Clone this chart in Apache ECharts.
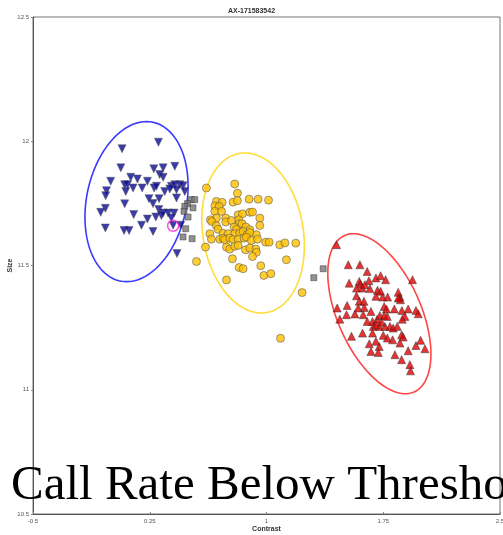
<!DOCTYPE html>
<html><head><meta charset="utf-8">
<script src="https://cdn.jsdelivr.net/npm/echarts@6/dist/echarts.min.js"></script>
<style>html,body{margin:0;padding:0;background:#fff}#c{width:503px;height:535px}</style>
</head><body><div id="c"></div>
<script>
const title = 'AX-171583542';
const xName = 'Contrast';
const yName = 'Size';
const overlayText = 'Call Rate Below Threshold';
const xTicks = [-0.5, 0.25, 1, 1.75, 2.5];
const yTicks = [10.5, 11, 11.5, 12, 12.5];

// cluster: BB (blue, down triangles)
const blueX = [0.072,0.306,0.064,0.276,0.336,0.411,0.128,0.171,0.314,0.336,-0.001,0.089,0.107,0.143,0.201,0.235,0.278,0.293,0.346,0.389,0.411,0.443,0.464,0.422,0.475,-0.028,-0.033,0.096,0.245,0.310,0.379,0.422,0.271,0.089,-0.035,-0.065,0.308,0.336,0.368,0.406,0.147,0.289,0.325,0.235,0.389,0.197,0.400,0.449,-0.035,0.085,0.117,0.271,0.425];
const blueY = [11.970,11.996,11.893,11.889,11.893,11.899,11.855,11.848,11.866,11.855,11.839,11.825,11.825,11.812,11.812,11.839,11.812,11.819,11.798,11.819,11.825,11.825,11.821,11.805,11.798,11.801,11.781,11.798,11.769,11.769,11.808,11.772,11.749,11.748,11.730,11.714,11.725,11.711,11.711,11.711,11.705,11.695,11.701,11.687,11.691,11.662,11.662,11.662,11.651,11.641,11.641,11.637,11.548];

// cluster: AB (yellow circles)
const yellowX = [0.614,0.796,0.813,0.888,0.946,1.013,0.785,0.813,0.678,0.715,0.668,0.696,0.668,0.711,0.678,0.640,0.648,0.738,0.738,0.775,0.818,0.845,0.893,0.910,0.822,0.824,0.792,0.807,0.843,0.867,0.957,0.957,0.893,0.935,0.678,0.689,0.636,0.721,0.753,0.796,0.828,0.850,0.875,0.893,0.646,0.700,0.721,0.732,0.764,0.785,0.818,0.856,0.871,0.903,0.942,0.995,1.017,1.085,1.118,1.188,0.743,0.764,0.796,0.818,0.865,0.893,0.931,0.935,0.910,0.608,0.781,0.550,0.824,0.850,0.963,1.128,0.983,1.028,0.743,1.229,1.090];
const yellowY = [11.812,11.828,11.791,11.767,11.767,11.763,11.755,11.761,11.758,11.754,11.740,11.738,11.718,11.718,11.691,11.684,11.677,11.691,11.675,11.681,11.704,11.708,11.714,11.715,11.684,11.668,11.655,11.646,11.668,11.655,11.691,11.661,11.644,11.624,11.660,11.646,11.628,11.630,11.628,11.628,11.630,11.637,11.624,11.633,11.606,11.606,11.610,11.604,11.610,11.604,11.606,11.610,11.614,11.601,11.606,11.594,11.594,11.583,11.591,11.590,11.574,11.566,11.577,11.581,11.563,11.570,11.566,11.553,11.536,11.574,11.527,11.516,11.492,11.487,11.499,11.523,11.460,11.467,11.442,11.391,11.207];

// cluster: AA (red, up triangles)
const redX = [1.450,1.525,1.600,1.647,1.703,1.733,1.765,1.938,1.531,1.596,1.604,1.658,1.578,1.615,1.664,1.632,1.713,1.733,1.703,1.746,1.778,1.846,1.857,1.861,1.578,1.596,1.626,1.454,1.518,1.589,1.628,1.671,1.756,1.771,1.821,1.870,1.910,1.960,1.975,1.471,1.514,1.568,1.621,1.647,1.681,1.711,1.728,1.756,1.776,1.889,1.872,1.686,1.724,1.761,1.793,1.814,1.840,1.546,1.617,1.681,1.750,1.776,1.810,1.868,1.878,1.660,1.703,1.724,1.671,1.718,1.857,1.910,1.960,1.990,2.018,1.825,1.868,1.921,1.925,1.703,1.739,1.846];
const redY = [11.584,11.503,11.503,11.476,11.450,11.459,11.443,11.443,11.429,11.436,11.425,11.439,11.409,11.409,11.407,11.423,11.400,11.396,11.376,11.373,11.373,11.392,11.373,11.362,11.378,11.356,11.356,11.329,11.339,11.329,11.331,11.315,11.335,11.325,11.325,11.319,11.325,11.319,11.306,11.284,11.302,11.305,11.302,11.275,11.275,11.284,11.299,11.299,11.295,11.295,11.284,11.255,11.255,11.255,11.255,11.248,11.255,11.215,11.228,11.228,11.219,11.208,11.201,11.221,11.212,11.185,11.195,11.174,11.154,11.150,11.188,11.157,11.178,11.199,11.165,11.141,11.121,11.101,11.076,11.262,11.272,11.369];

// no calls (gray squares)
const grayX = [0.518,0.539,0.492,0.475,0.528,0.470,0.496,0.481,0.464,0.522,1.304,1.364];
const grayY = [11.765,11.765,11.749,11.738,11.732,11.718,11.695,11.648,11.615,11.608,11.451,11.487];

// highlighted sample
const highlightX = [0.400];
const highlightY = [11.660];

// cluster ellipses: center x, center y, x-cos term, x-sin term, y-cos term
const ellipseBlue = [0.165, 11.757, 0.064, 0.325, 0.322];
const ellipseYellow = [0.914, 11.631, -0.053, 0.325, 0.322];
const ellipseRed = [1.725, 11.306, -0.167, 0.286, 0.322];

const zip = (xs, ys) => xs.map((x, i) => [x, ys[i]]);

function ellipseSeries(params, color) {
  return {
    type: 'custom', silent: true, z: 1,
    data: [params],
    renderItem: function (p, api) {
      const cx = api.value(0), cy = api.value(1), a = api.value(2), b = api.value(3), c = api.value(4);
      const pts = [];
      for (let k = 0; k <= 120; k++) {
        const t = k / 120 * Math.PI * 2;
        pts.push(api.coord([cx + a * Math.cos(t) + b * Math.sin(t), cy + c * Math.cos(t)]));
      }
      return { type: 'polyline', shape: { points: pts }, style: { stroke: color, lineWidth: 1.6, fill: null } };
    },
    encode: { x: [0], y: [1] }
  };
}

const chart = echarts.init(document.getElementById('c'), null, { renderer: 'canvas' });
const labelStyle = { fontSize: 6, color: '#555', fontFamily: 'Liberation Sans' };
chart.setOption({
  animation: false,
  backgroundColor: '#fff',
  title: { text: title, left: 'center', top: 3, textStyle: { fontSize: 7, fontWeight: 'bold', color: '#333', fontFamily: 'Liberation Sans' } },
  grid: { left: 33, right: 3, top: 17, bottom: 21, show: true, borderColor: '#777', borderWidth: 1, containLabel: false, outerBoundsMode: 'none' },
  xAxis: {
    type: 'value', min: xTicks[0], max: xTicks[xTicks.length - 1], interval: 0.75,
    name: xName, nameLocation: 'middle', nameGap: 12, nameMoveOverlap: false,
    nameTextStyle: { fontSize: 7, fontWeight: 'bold', color: '#333', fontFamily: 'Liberation Sans' },
    axisLine: { onZero: false, lineStyle: { color: '#555' } },
    axisTick: { show: true, inside: true, length: 2, lineStyle: { color: '#888' } },
    axisLabel: Object.assign({ margin: 4 }, labelStyle),
    splitLine: { show: false }
  },
  yAxis: {
    type: 'value', min: yTicks[0], max: yTicks[yTicks.length - 1], interval: 0.5,
    name: yName, nameLocation: 'middle', nameGap: 19, nameMoveOverlap: false,
    nameTextStyle: { fontSize: 7, fontWeight: 'bold', color: '#333', fontFamily: 'Liberation Sans' },
    axisLine: { onZero: false, lineStyle: { color: '#555' } },
    axisTick: { show: true, length: 2, lineStyle: { color: '#888' } },
    axisLabel: Object.assign({ margin: 4 }, labelStyle),
    splitLine: { show: false }
  },
  graphic: [{
    type: 'text', left: 11, top: 462, z: 100,
    style: { text: overlayText, font: '49px "Liberation Serif"', fill: '#000' }
  }],
  series: [
    ellipseSeries(ellipseBlue, '#3a3aff'),
    ellipseSeries(ellipseYellow, '#ffdc3a'),
    ellipseSeries(ellipseRed, '#ff4545'),
    { type: 'scatter', data: zip(grayX, grayY), symbol: 'rect', symbolSize: 6, z: 3,
      itemStyle: { color: '#767676', borderColor: '#333', borderWidth: 0.6 } },
    { type: 'scatter', data: zip(yellowX, yellowY), symbol: 'circle', symbolSize: 8, z: 3,
      itemStyle: { color: '#ffc000', borderColor: '#555', borderWidth: 0.7 } },
    { type: 'scatter', data: zip(blueX, blueY), symbol: 'triangle', symbolRotate: 180, symbolSize: 8, z: 3,
      itemStyle: { color: '#0a0a96', borderColor: '#555', borderWidth: 0.6 } },
    { type: 'scatter', data: zip(redX, redY), symbol: 'triangle', symbolSize: 8, z: 3,
      itemStyle: { color: '#e00000', borderColor: '#333', borderWidth: 0.6 } },
    { type: 'scatter', data: zip(highlightX, highlightY), symbol: 'circle', symbolSize: 11, z: 4,
      itemStyle: { color: 'rgba(0,0,0,0)', borderColor: '#ff22dd', borderWidth: 1.5 } }
  ]
});
</script></body></html>
